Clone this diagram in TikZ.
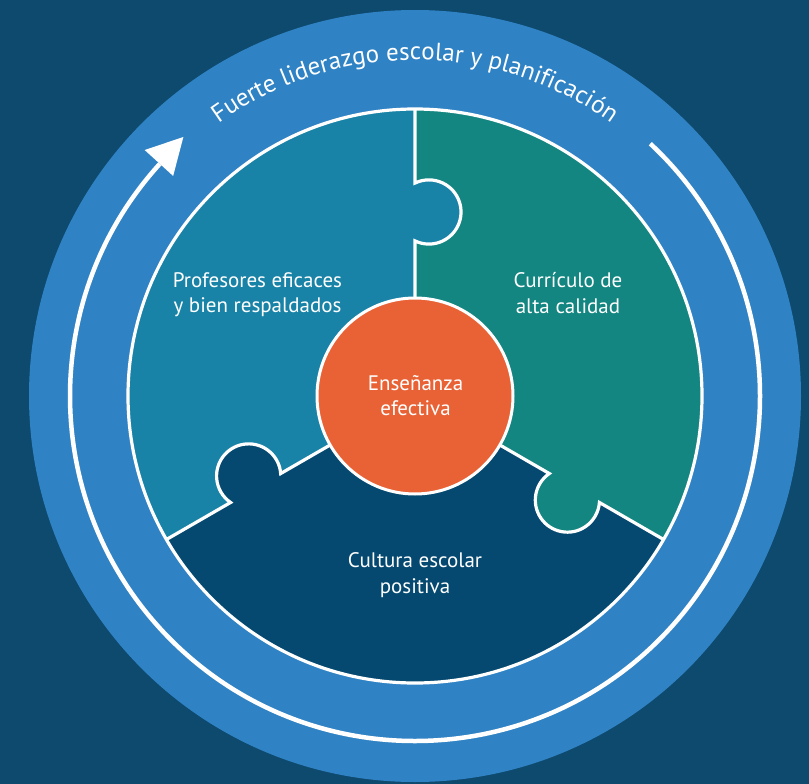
\documentclass[tikz,border=0pt]{standalone}
\usepackage{fontspec}
\setmainfont{PT Sans}
\usetikzlibrary{decorations.text}
\definecolor{bgc}{RGB}{14,73,110}
\definecolor{ringc}{RGB}{47,131,197}
\definecolor{leftc}{RGB}{24,131,167}
\definecolor{rightc}{RGB}{19,134,129}
\definecolor{bottc}{RGB}{5,73,112}
\definecolor{orangec}{RGB}{233,98,54}
\tikzset{
  lbl/.style={text=white, anchor=base, inner sep=0pt, font=\fontsize{21}{25}\selectfont},
  wline/.style={draw=white, line width=3.2pt, line join=miter},
}
\begin{document}
\begin{tikzpicture}[x=1pt,y=1pt]
\useasboundingbox (0,0) rectangle (809,-784);
\fill[bgc] (0,0) rectangle (809,-784);
\coordinate (C) at (415,-396);
% big ring disc
\fill[ringc] (C) circle[radius=386];
% three pieces
\fill[leftc] (C) -- ++(90:287) arc[start angle=90,end angle=210,radius=287] -- cycle;
\fill[bottc] (C) -- ++(210:287) arc[start angle=210,end angle=330,radius=287] -- cycle;
\fill[rightc] (C) -- ++(-30:287) arc[start angle=-30,end angle=90,radius=287] -- cycle;
% knobs
\begin{scope}[shift={(C)},rotate=90]
  \fill[leftc] (184,-13.9) circle[radius=32.1];
\end{scope}
\begin{scope}[shift={(C)},rotate=210]
  \fill[bottc] (184,-13.9) circle[radius=32.1];
\end{scope}
\begin{scope}[shift={(C)},rotate=330]
  \fill[rightc] (184,-13.9) circle[radius=32.1];
\end{scope}
% white dividing lines
\foreach \a in {90,210,330}{
  \begin{scope}[shift={(C)},rotate=\a]
    \draw[wline] (0,0) -- (155.1,0) arc[start angle=154.3,end angle=385.7,radius=32.1] -- (287,0);
  \end{scope}
}
\draw[wline] (C) circle[radius=287];
% centre
\filldraw[fill=orangec, draw=white, line width=3pt] (C) circle[radius=98];
% outer arrow ring
\draw[white, line width=4.5pt] ([shift={(C)}]47:345) arc[start angle=47,end angle=-222.3,radius=345];
\fill[white] ([shift={(C)}]137.7:365.5) -- ([shift={(C)}]131.8:347.5) -- ([shift={(C)}]137.7:327) -- cycle;
% arc text
\path[decorate, decoration={text along path, text align=center, text color=white,
  text={|\fontsize{25}{30}\selectfont|Fuerte liderazgo escolar y planificación}}]
  ([shift={(C)}]160:336) arc[start angle=160,end angle=20,radius=336];
% labels
\node[lbl] (p1) at (257.5,-287.3) {Profesores eficaces};
\node[lbl] (p2) at (257.5,-312) {y bien respaldados};
\node[lbl] (c1) at (568,-287.3) {Currículo de};
\node[lbl] (c2) at (568,-313) {alta calidad};
\node[lbl] (e1) at (415.5,-390) {Enseñanza};
\node[lbl] (e2) at (415.5,-415.7) {efectiva};
\node[lbl] (k1) at (415,-567.3) {Cultura escolar};
\node[lbl] (k2) at (415,-593) {positiva};
\end{tikzpicture}
\end{document}
